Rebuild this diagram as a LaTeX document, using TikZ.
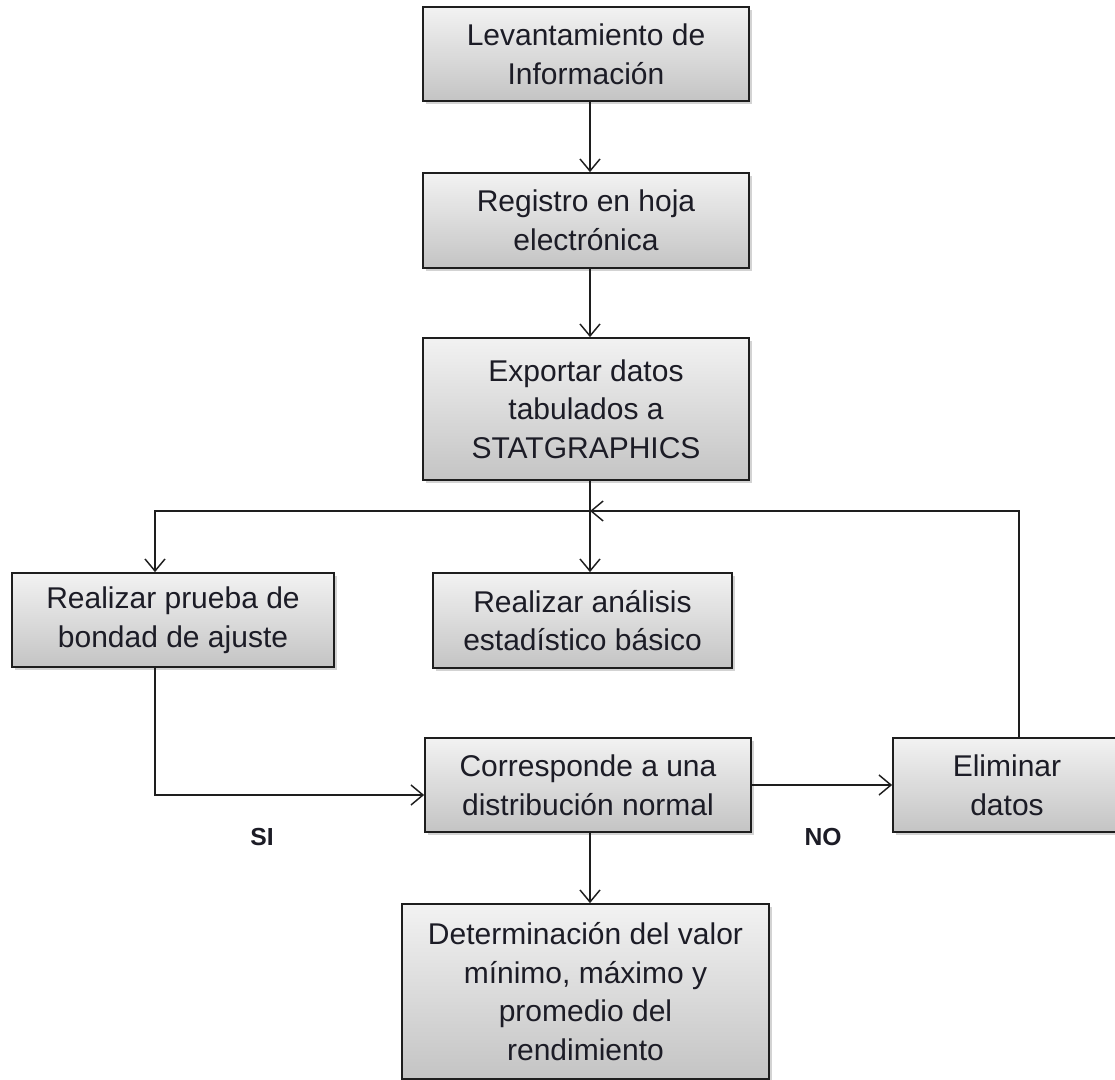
\documentclass[tikz,border=0pt]{standalone}
\usepackage{fontspec}
\setmainfont{Liberation Sans}
\usetikzlibrary{arrows.meta,shadows,calc}
\definecolor{boxtop}{RGB}{242,242,242}
\definecolor{boxbot}{RGB}{196,196,196}
\definecolor{txt}{RGB}{28,28,38}
\definecolor{ln}{RGB}{30,30,30}
\begin{document}
\begin{tikzpicture}[x=0.75pt,y=-0.75pt,
  box/.style={draw=ln, line width=1.3pt, top color=boxtop, bottom color=boxbot,
    align=center, font=\fontsize{22.5}{29}\selectfont, text=txt, inner sep=0pt,
    drop shadow={shadow xshift=2pt,shadow yshift=-2pt,opacity=0.35}},
  conn/.style={draw=ln, line width=1.2pt,
    -{Straight Barb[length=9pt,width=15pt,line width=1.1pt]}},
  lab/.style={font=\fontsize{18.5}{20}\selectfont\bfseries, text=txt}]
\useasboundingbox (0,0) rectangle (1115,1080);

\node[box, minimum width=244.5pt, minimum height=70.5pt] (b1) at (586,54)
  {Levantamiento de\\Información};
\node[box, minimum width=244.5pt, minimum height=71.25pt] (b2) at (586,220.5)
  {Registro en hoja\\electrónica};
\node[box, minimum width=244.5pt, minimum height=106.5pt] (b3) at (586,409)
  {Exportar datos\\tabulados a\\STATGRAPHICS};
\node[box, minimum width=241.5pt, minimum height=70.5pt] (b4) at (173,620)
  {Realizar prueba de\\bondad de ajuste};
\node[box, minimum width=224.25pt, minimum height=71.25pt] (b5) at (582.5,620.5)
  {Realizar análisis\\estadístico básico};
\node[box, minimum width=244.5pt, minimum height=70.5pt] (b6) at (588,785)
  {Corresponde a una\\distribución normal};
\node[box, minimum width=171pt, minimum height=70.5pt] (b7) at (1007,785)
  {Eliminar\\datos};
\node[box, minimum width=275.25pt, minimum height=131.25pt] (b8) at (585.5,991.5)
  {Determinación del valor\\mínimo, máximo y\\promedio del\\rendimiento};

\coordinate (cx) at (590,0);
\coordinate (lx) at (155,0);
\coordinate (rx) at (1019,0);
\coordinate (j) at (590,511);

\draw[conn] (b1.south -| cx) -- (b2.north -| cx);
\draw[conn] (b2.south -| cx) -- (b3.north -| cx);
\draw[conn] (b3.south -| cx) -- (b5.north -| cx);
\draw[conn] (j) -| (b4.north -| lx);
\draw[conn] (b7.north -| rx) |- (j);
\draw[conn] (b4.south -| lx) |- ([yshift=-7.5pt]b6.west);
\draw[conn] (b6.east) -- (b7.west);
\draw[conn] (b6.south -| cx) -- (b8.north -| cx);

\node[lab] (si) at (262,837) {SI};
\node[lab] (no) at (823,837) {NO};
\end{tikzpicture}
\end{document}
